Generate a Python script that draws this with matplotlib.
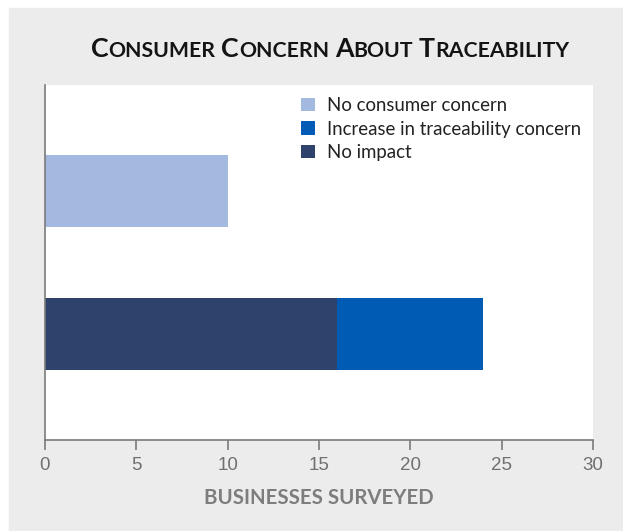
import matplotlib.pyplot as plt
import numpy as np
from matplotlib.patches import Rectangle

# Data
no_impact = [16, 0]
increase = [8, 0]
no_concern = [0, 10]
xticks = [0, 5, 10, 15, 20, 25, 30]

c_light = '#a3b9e0'
c_blue = '#005bb5'
c_navy = '#2e426b'
bg = '#ececec'

fig = plt.figure(figsize=(6.23, 5.31), dpi=100)
fig.patch.set_facecolor('white')
fig.patches.append(Rectangle((9 / 623, 0), 1.1, (531 - 8) / 531,
                             transform=fig.transFigure, color=bg, zorder=-5))

ax = fig.add_axes([45 / 623, (531 - 440) / 531, 548 / 623, 355 / 531])
ax.set_facecolor('white')

y = np.arange(len(no_impact))
h = 0.5
ax.barh(y, no_impact, height=h, color=c_navy, label='No impact')
ax.barh(y, increase, left=no_impact, height=h, color=c_blue,
        label='Increase in traceability concern')
ax.barh(y, no_concern, height=h, color=c_light, label='No consumer concern')

ax.set_xlim(0, 30)
ax.set_ylim(-0.74, 1.74)
ax.set_xticks(xticks)
ax.set_yticks([])
for s in ['top', 'right']:
    ax.spines[s].set_visible(False)
for s in ['left', 'bottom']:
    ax.spines[s].set_color('#7a7a7a')
    ax.spines[s].set_linewidth(1.2)
ax.tick_params(axis='x', length=7, width=1.2, color='#7a7a7a',
               labelcolor='#707070', labelsize=13.5, pad=5)
for lab in ax.get_xticklabels():
    lab.set_fontfamily('Liberation Sans')

ax.set_xlabel('BUSINESSES SURVEYED', fontsize=14.7, fontweight='bold',
              color='#7d7d7d', family='Lato', labelpad=10)

handles, labels = ax.get_legend_handles_labels()
order = [2, 1, 0]
leg = ax.legend([handles[i] for i in order], [labels[i] for i in order],
                loc='upper left', bbox_to_anchor=(0.44, 1.008), frameon=False,
                handlelength=0.75, handleheight=0.75, handletextpad=0.65,
                labelspacing=0.35, borderpad=0.3,
                prop={'family': 'Lato', 'size': 13.4})
for t in leg.get_texts():
    t.set_color('#222222')

# Small-caps title
title = 'Consumer Concern About Traceability'
big, small = 19.3, 15.3
pieces = []
for i, word in enumerate(title.split(' ')):
    if i > 0:
        pieces.append((' ', small))
    pieces.append((word[0].upper(), big))
    pieces.append((word[1:].upper(), small))

renderer = fig.canvas.get_renderer()
texts = []
x = 0.0
ty = (531 - 57) / 531
for s, size in pieces:
    t = fig.text(x, ty, s, fontsize=size, fontweight='bold', family='Lato',
                 color='#141414', ha='left', va='baseline')
    w = t.get_window_extent(renderer).width / fig.bbox.width
    if s == ' ':
        w = 0.28 * size / 72 * 100 / fig.bbox.width
    texts.append((t, x))
    x += w
start = (330 / 623) - x / 2
for t, x0 in texts:
    t.set_x(start + x0)

fig.savefig('out.png', dpi=100)
